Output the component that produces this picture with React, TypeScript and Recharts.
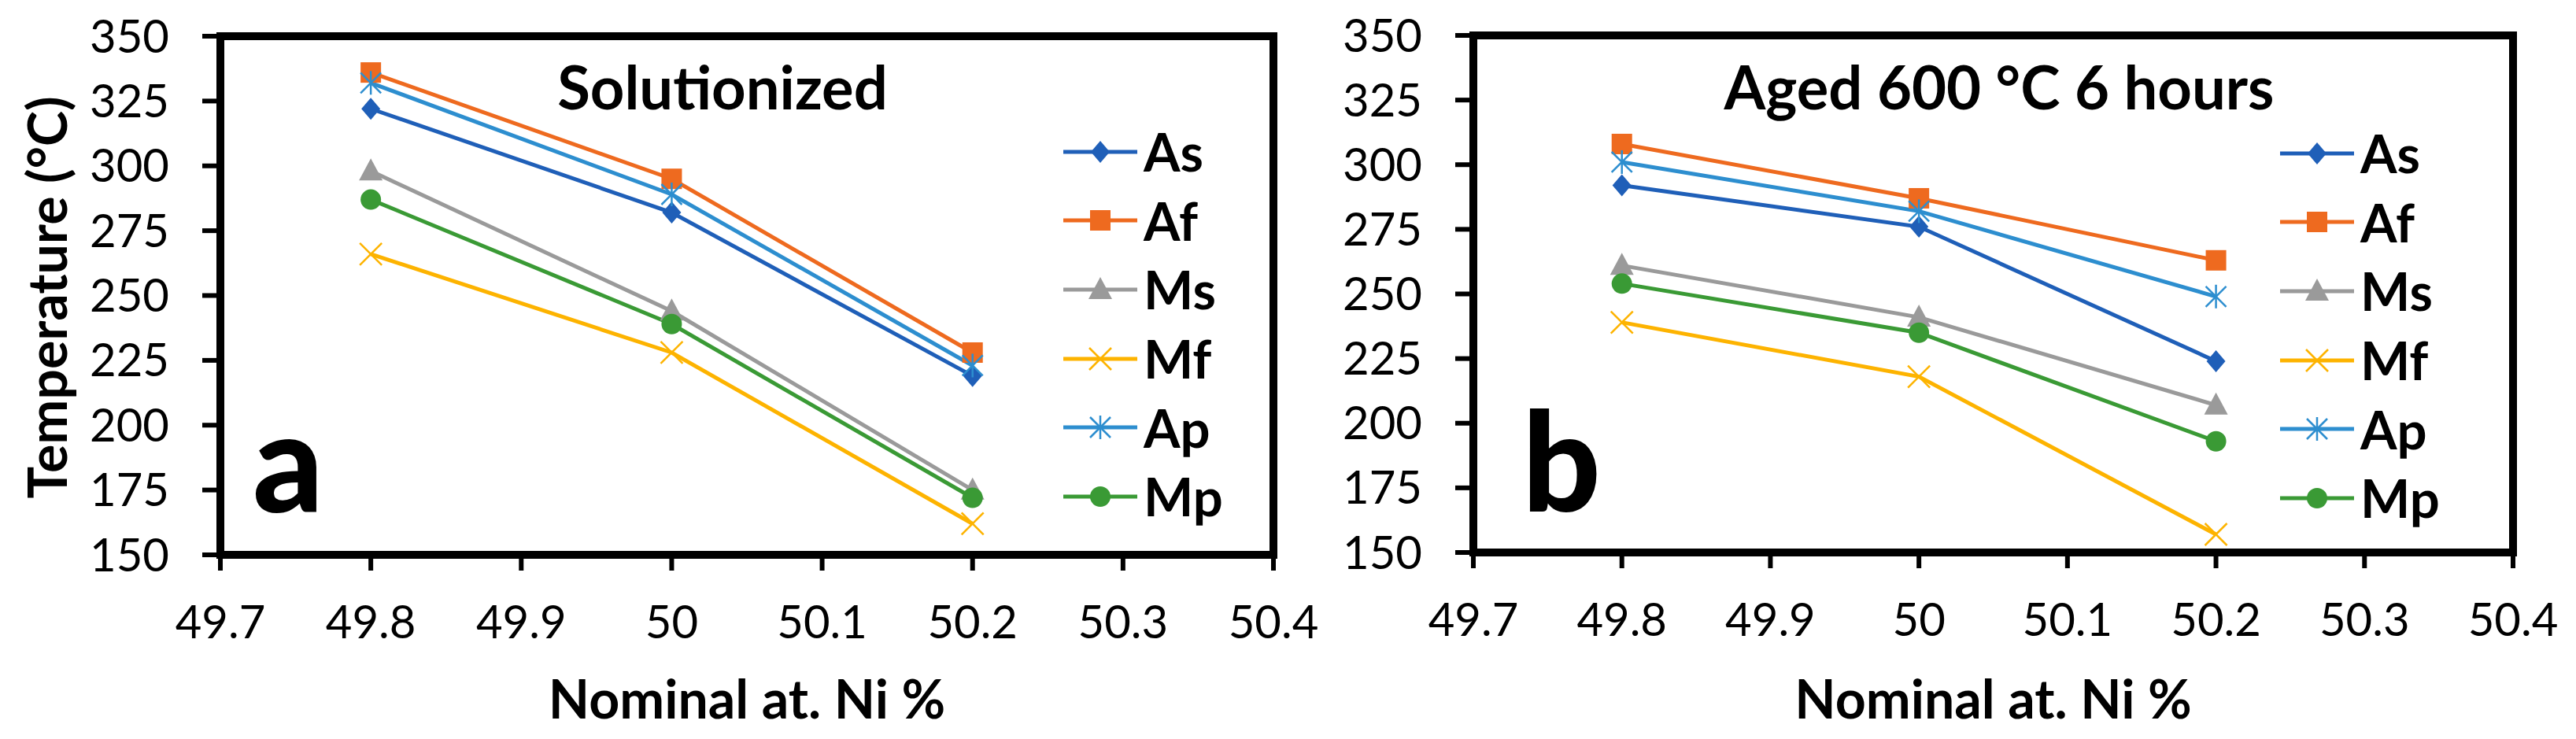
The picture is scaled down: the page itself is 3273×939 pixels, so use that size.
import React from "react";
import { LineChart, Line, XAxis, YAxis, ReferenceArea, Legend, Label } from "recharts";

// nominal Ni content of the three alloys
const niContent = [49.8, 50, 50.2];
const xTicks = [49.7, 49.8, 49.9, 50, 50.1, 50.2, 50.3, 50.4];
const yTicks = [150, 175, 200, 225, 250, 275, 300, 325, 350];

const seriesNames = ["As", "Af", "Ms", "Mf", "Ap", "Mp"];

// a - solutionized
const solAs = [322, 282, 219];
const solAf = [336, 295, 228];
const solMs = [298, 244, 175];
const solMf = [266, 228, 162];
const solAp = [332, 289, 223];
const solMp = [287, 239, 172];

// b - aged 600 C, 6 hours
const agedAs = [292, 276, 224];
const agedAf = [308, 287, 263];
const agedMs = [261, 241, 207];
const agedMf = [239, 218, 157];
const agedAp = [301, 282, 249];
const agedMp = [254, 235, 193];

const seriesStyle: Record<string, { color: string; shape: string }> = {
  As: { color: "#1F5FB8", shape: "diamond" },
  Af: { color: "#EE6A1F", shape: "square" },
  Ms: { color: "#9A9A9A", shape: "triangle" },
  Mf: { color: "#FDB300", shape: "cross" },
  Ap: { color: "#2D8ECF", shape: "star" },
  Mp: { color: "#3A9A35", shape: "circle" },
};

const buildRows = (cols: number[][]) =>
  niContent.map((ni, i) => {
    const row: Record<string, number> = { ni };
    seriesNames.forEach((n, k) => (row[n] = cols[k][i]));
    return row;
  });

const solData = buildRows([solAs, solAf, solMs, solMf, solAp, solMp]);
const agedData = buildRows([agedAs, agedAf, agedMs, agedMf, agedAp, agedMp]);

const Marker = ({ shape, cx, cy, color }: any) => {
  switch (shape) {
    case "diamond":
      return <polygon points={`${cx},${cy - 14} ${cx + 12},${cy} ${cx},${cy + 14} ${cx - 12},${cy}`} fill={color} />;
    case "square":
      return <rect x={cx - 13} y={cy - 13} width={26} height={26} fill={color} />;
    case "triangle":
      return <polygon points={`${cx},${cy - 16} ${cx + 15},${cy + 12} ${cx - 15},${cy + 12}`} fill={color} />;
    case "cross":
      return (
        <g stroke={color} strokeWidth={2.5}>
          <line x1={cx - 14} y1={cy - 14} x2={cx + 14} y2={cy + 14} />
          <line x1={cx - 14} y1={cy + 14} x2={cx + 14} y2={cy - 14} />
        </g>
      );
    case "star":
      return (
        <g stroke={color} strokeWidth={2.5}>
          <line x1={cx - 13} y1={cy - 13} x2={cx + 13} y2={cy + 13} />
          <line x1={cx - 13} y1={cy + 13} x2={cx + 13} y2={cy - 13} />
          <line x1={cx} y1={cy - 15} x2={cx} y2={cy + 15} />
        </g>
      );
    default:
      return <circle cx={cx} cy={cy} r={13} fill={color} />;
  }
};

// keep the legend in the series order, not alphabetical
const renderLegend = ({ payload }: any) => {
  const items = [...(payload || [])].sort(
    (a: any, b: any) => seriesNames.indexOf(a.value) - seriesNames.indexOf(b.value)
  );
  return (
    <div>
      {items.map((entry: any) => {
        const st = seriesStyle[entry.value];
        return (
          <div key={entry.value} style={{ display: "flex", alignItems: "center", height: 87.6 }}>
            <svg width={94} height={40}>
              <line x1={0} y1={20} x2={94} y2={20} stroke={st.color} strokeWidth={5} />
              <Marker shape={st.shape} cx={47} cy={20} color={st.color} />
            </svg>
            <span style={{ marginLeft: 8, fontSize: 67, fontWeight: 700, lineHeight: 1, color: "#000" }}>
              {entry.value}
            </span>
          </div>
        );
      })}
    </div>
  );
};

const Panel = ({ data, left, width, margin, yWidth, xHeight, legendPos }: any) => (
  <div style={{ position: "absolute", left, top: 0 }}>
    <LineChart width={width} height={939} data={data} margin={margin}>
      <XAxis
        dataKey="ni"
        type="number"
        domain={[49.7, 50.4]}
        ticks={xTicks}
        axisLine={false}
        tickLine={{ stroke: "#000", strokeWidth: 6 }}
        tickSize={20}
        tickMargin={45}
        tick={{ fontSize: 58, fill: "#000" }}
        height={xHeight}
        interval={0}
      >
        <Label
          value="Nominal at. Ni %"
          position="insideBottom"
          offset={26}
          style={{ fontSize: 68, fontWeight: 700, fill: "#000" }}
        />
      </XAxis>
      <YAxis
        type="number"
        domain={[150, 350]}
        ticks={yTicks}
        axisLine={false}
        tickLine={{ stroke: "#000", strokeWidth: 6 }}
        tickSize={23}
        tickMargin={42}
        tick={{ fontSize: 58, fill: "#000" }}
        width={yWidth}
        interval={0}
      />
      <ReferenceArea
        x1={49.7}
        x2={50.4}
        y1={150}
        y2={350}
        fill="none"
        fillOpacity={0}
        stroke="#000"
        strokeWidth={10}
        ifOverflow="visible"
      />
      {seriesNames.map((n) => (
        <Line
          key={n}
          dataKey={n}
          name={n}
          stroke={seriesStyle[n].color}
          strokeWidth={5}
          isAnimationActive={false}
          activeDot={false}
          dot={(p: any) => (
            <Marker key={`${n}-${p.index}`} shape={seriesStyle[n].shape} cx={p.cx} cy={p.cy} color={seriesStyle[n].color} />
          )}
        />
      ))}
      <Legend
        layout="vertical"
        align="center"
        verticalAlign="middle"
        content={renderLegend}
        wrapperStyle={{ left: legendPos.left, top: legendPos.top, width: 260, height: 530 }}
      />
    </LineChart>
  </div>
);

export default function App() {
  return (
    <div
      style={{
        position: "absolute",
        left: 0,
        top: 0,
        width: 3273,
        height: 939,
        background: "#fff",
        fontFamily: "Lato, 'Open Sans', sans-serif",
      }}
    >
      <Panel
        data={solData}
        left={0}
        width={1720}
        margin={{ top: 46, right: 102, bottom: 0, left: 0 }}
        yWidth={280}
        xHeight={234}
        legendPos={{ left: 1351, top: 149 }}
      />
      <Panel
        data={agedData}
        left={1640}
        width={1633}
        margin={{ top: 45, right: 80, bottom: 0, left: 0 }}
        yWidth={232}
        xHeight={237}
        legendPos={{ left: 1257, top: 151 }}
      />
      <svg
        width={3273}
        height={939}
        style={{ position: "absolute", left: 0, top: 0, pointerEvents: "none" }}
      >
        <text
          x={58}
          y={378}
          transform="rotate(-90 58 378)"
          textAnchor="middle"
          dominantBaseline="central"
          fontSize={68}
          fontWeight={700}
        >
          Temperature (°C)
        </text>
        <text x={918} y={139} textAnchor="middle" fontSize={76} fontWeight={700}>
          Solutionized
        </text>
        <text x={2540} y={139} textAnchor="middle" fontSize={76} fontWeight={700}>
          Aged 600 °C 6 hours
        </text>
        <text x={366} y={651} textAnchor="middle" fontSize={175} fontWeight={900}>
          a
        </text>
        <text x={1984} y={650} textAnchor="middle" fontSize={175} fontWeight={900}>
          b
        </text>
      </svg>
    </div>
  );
}
